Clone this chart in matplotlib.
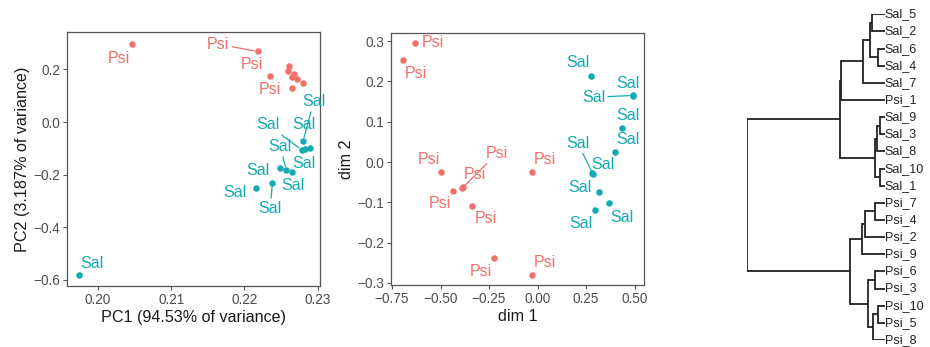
import matplotlib
matplotlib.use('Agg')
import matplotlib.pyplot as plt

plt.rcParams['font.family'] = ['Liberation Sans', 'DejaVu Sans']

PSI_COL = '#F0706A'
SAL_COL = '#14AAB2'

# PCA (left panel)
pca_psi_x = [0.2047, 0.2218, 0.2235, 0.2261, 0.2259, 0.2268, 0.2265, 0.2272, 0.2280, 0.2265]
pca_psi_y = [0.297, 0.268, 0.175, 0.2125, 0.195, 0.182, 0.170, 0.162, 0.147, 0.129]
pca_sal_x = [0.1974, 0.2216, 0.2238, 0.2248, 0.2257, 0.2265, 0.2280, 0.2278, 0.2283, 0.2289]
pca_sal_y = [-0.581, -0.252, -0.233, -0.176, -0.182, -0.189, -0.071, -0.106, -0.102, -0.0975]

# MDS (middle panel)
mds_psi_x = [-0.632, -0.695, -0.495, -0.437, -0.389, -0.386, -0.337, -0.029, -0.226, -0.028]
mds_psi_y = [0.295, 0.253, -0.025, -0.072, -0.065, -0.062, -0.108, -0.024, -0.237, -0.280]
mds_sal_x = [0.274, 0.492, 0.490, 0.433, 0.400, 0.285, 0.282, 0.318, 0.366, 0.294]
mds_sal_y = [0.213, 0.163, 0.165, 0.084, 0.025, -0.029, -0.027, -0.075, -0.102, -0.120]

# dendrogram (right panel)
leaf_order = ['Sal_5', 'Sal_2', 'Sal_6', 'Sal_4', 'Sal_7', 'Psi_1', 'Sal_9', 'Sal_3',
              'Sal_8', 'Sal_10', 'Sal_1', 'Psi_7', 'Psi_4', 'Psi_2', 'Psi_9', 'Psi_6',
              'Psi_3', 'Psi_10', 'Psi_5', 'Psi_8']
# (left child, right child, height); ints refer to earlier merges
merges = [
    ('Sal_5', 'Sal_2', 0.097),   # 0
    ('Sal_6', 'Sal_4', 0.049),   # 1
    (0, 1, 0.109),               # 2
    (2, 'Sal_7', 0.158),         # 3
    (3, 'Psi_1', 0.316),         # 4
    ('Sal_9', 'Sal_3', 0.036),   # 5
    (5, 'Sal_8', 0.060),         # 6
    ('Sal_10', 'Sal_1', 0.036),  # 7
    (6, 7, 0.073),               # 8
    (4, 8, 0.327),               # 9
    ('Psi_7', 'Psi_4', 0.073),   # 10
    (10, 'Psi_2', 0.145),        # 11
    (11, 'Psi_9', 0.169),        # 12
    ('Psi_6', 'Psi_3', 0.073),   # 13
    ('Psi_10', 'Psi_5', 0.049),  # 14
    (14, 'Psi_8', 0.085),        # 15
    (13, 15, 0.121),             # 16
    (12, 16, 0.254),             # 17
    (9, 17, 1.0),                # 18
]

# label offsets in pixels (dx right, dy down); flag = draw segment
pca_psi_off = [(-13.3, 14.6, 0), (-39.4, -7.3, 1), (-18.3, -11, 0), None, None,
               None, None, None, None, (-22, 1.3, 0)]
pca_sal_off = [(13.4, -11.7, 0), (-21, 4.4, 0), (-2, 25, 1), (-21.6, 1.7, 0), (-6, -23.3, 1),
               (0.7, 13.3, 0), (10.6, -39, 1), (-33.4, -25, 1), (-1.7, 14.3, 0), (-6, -22.7, 0)]
mds_psi_off = [(18.3, -0.3, 0), (13, 13, 0), (-12.7, -12.3, 0), (-13, 12.7, 0), (35, -35, 1),
               (12.3, -12.3, 0), (13.3, 13.3, 0), (13.3, -12.7, 0), (-13.3, 14, 0), (13, -12.3, 0)]
mds_sal_off = [(-13.3, -13.3, 0), (-5.7, -12.7, 0), (-39.3, 1.7, 1), (6, -12.3, 0), (12.3, -12.3, 0),
               (-15.3, -30.7, 1), (10.3, -8.3, 0), (-19.3, -4.3, 0), (13, 14, 0), (-14, 12.7, 0)]


def style_axes(ax):
    for s in ax.spines.values():
        s.set_color('#555555')
        s.set_linewidth(0.9)
    ax.tick_params(direction='out', length=3, width=0.8, color='#555555',
                   labelcolor='#4D4D4D', labelsize=9.8, pad=2)


def label_points(ax, xs, ys, offs, text, col):
    for x, y, o in zip(xs, ys, offs):
        if o is None:
            continue
        dx, dy, seg = o
        props = None
        if seg:
            props = dict(arrowstyle='-', color=col, lw=0.9, shrinkA=0, shrinkB=2.5)
        ax.annotate(text, (x, y), xytext=(dx * 0.72, -dy * 0.72), textcoords='offset points',
                    ha='center', va='center', color=col, fontsize=11.5, arrowprops=props)


fig = plt.figure(figsize=(9.3, 3.47), dpi=100)

# left: PCA
ax1 = fig.add_axes([67 / 930, 61 / 347, 253 / 930, 254 / 347])
ax1.scatter(pca_psi_x, pca_psi_y, s=22, color=PSI_COL, zorder=3, linewidths=0)
ax1.scatter(pca_sal_x, pca_sal_y, s=22, color=SAL_COL, zorder=3, linewidths=0)
label_points(ax1, pca_psi_x, pca_psi_y, pca_psi_off, 'Psi', PSI_COL)
label_points(ax1, pca_sal_x, pca_sal_y, pca_sal_off, 'Sal', SAL_COL)
ax1.set_xlim(0.1958, 0.2303)
ax1.set_ylim(-0.623, 0.342)
ax1.set_xticks([0.20, 0.21, 0.22, 0.23])
ax1.set_xticklabels(['0.20', '0.21', '0.22', '0.23'])
ax1.set_yticks([-0.6, -0.4, -0.2, 0.0, 0.2])
ax1.set_yticklabels(['\u22120.6', '\u22120.4', '\u22120.2', '0.0', '0.2'])
ax1.set_xlabel('PC1 (94.53% of variance)', fontsize=11.6, color='#1A1A1A', labelpad=2)
ax1.set_ylabel('PC2 (3.187% of variance)', fontsize=11.6, color='#1A1A1A', labelpad=2)
style_axes(ax1)

# middle: MDS
ax2 = fig.add_axes([391 / 930, 62 / 347, 253 / 930, 252 / 347])
ax2.scatter(mds_psi_x, mds_psi_y, s=22, color=PSI_COL, zorder=3, linewidths=0)
ax2.scatter(mds_sal_x, mds_sal_y, s=22, color=SAL_COL, zorder=3, linewidths=0)
label_points(ax2, mds_psi_x, mds_psi_y, mds_psi_off, 'Psi', PSI_COL)
label_points(ax2, mds_sal_x, mds_sal_y, mds_sal_off, 'Sal', SAL_COL)
ax2.set_xlim(-0.755, 0.548)
ax2.set_ylim(-0.305, 0.320)
ax2.set_xticks([-0.75, -0.5, -0.25, 0.0, 0.25, 0.5])
ax2.set_xticklabels(['\u22120.75', '\u22120.50', '\u22120.25', '0.00', '0.25', '0.50'])
ax2.set_yticks([-0.3, -0.2, -0.1, 0.0, 0.1, 0.2, 0.3])
ax2.set_yticklabels(['\u22120.3', '\u22120.2', '\u22120.1', '0.0', '0.1', '0.2', '0.3'])
ax2.set_xlabel('dim 1', fontsize=11.6, color='#1A1A1A', labelpad=2)
ax2.set_ylabel('dim 2', fontsize=11.6, color='#1A1A1A', labelpad=2)
style_axes(ax2)

# right: dendrogram
ax3 = fig.add_axes([747.3 / 930, 7 / 347, (885 - 747.3) / 930, (340 - 14.3) / 347])
pos = {name: i for i, name in enumerate(leaf_order)}
node_y = {}
node_h = {}


def get(c):
    if isinstance(c, int):
        return node_y[c], node_h[c]
    return pos[c], 0.0


for k, (a, b, h) in enumerate(merges):
    ya, ha = get(a)
    yb, hb = get(b)
    ax3.plot([h, h], [ya, yb], color='#222222', lw=1.3, solid_capstyle='projecting')
    ax3.plot([h, ha], [ya, ya], color='#222222', lw=1.3, solid_capstyle='butt')
    ax3.plot([h, hb], [yb, yb], color='#222222', lw=1.3, solid_capstyle='butt')
    node_y[k] = (ya + yb) / 2
    node_h[k] = h

for name, i in pos.items():
    ax3.text(0.002, i, name, ha='left', va='center', fontsize=9, color='#222222')

ax3.set_xlim(1.0, 0.0)
ax3.set_ylim(19, 0)
ax3.axis('off')

fig.savefig('out.png', dpi=100)
